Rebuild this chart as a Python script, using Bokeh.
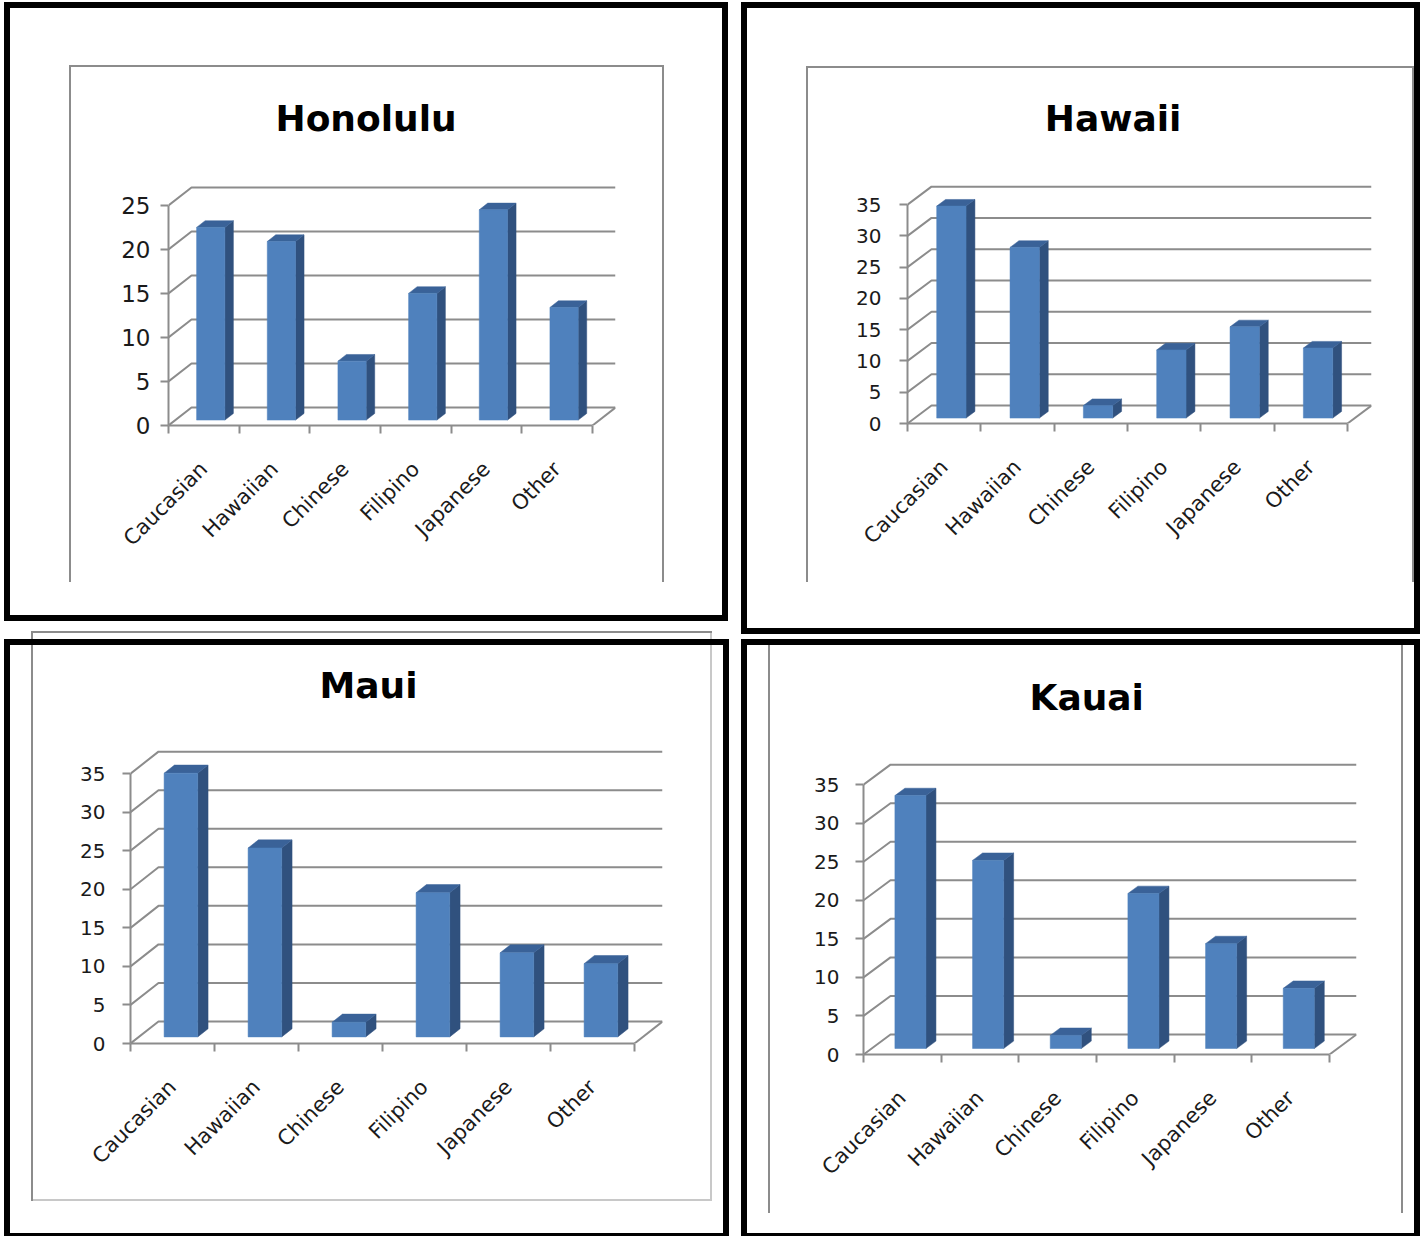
import math
from bokeh.plotting import figure
from bokeh.models import Range1d, LinearAxis, FixedTicker
from bokeh.layouts import row, column
from bokeh.embed import file_html
from bokeh.resources import INLINE

# ---- data -------------------------------------------------------------
categories = ["Caucasian", "Hawaiian", "Chinese", "Filipino", "Japanese", "Other"]
honolulu = [21.9, 20.3, 6.7, 14.4, 23.9, 12.8]
hawaii = [33.9, 27.3, 2.0, 10.9, 14.6, 11.2]
maui = [34.2, 24.5, 1.9, 18.7, 10.9, 9.5]
kauai = [32.8, 24.4, 1.7, 20.1, 13.6, 7.8]

# ---- styling ----------------------------------------------------------
FRONT = "#4F81BD"
TOP = "#3A6298"
SIDE = "#30517E"
GRID = "#8c8c8c"
LIGHT = "#c8c8c8"
TEXT = "#1a1a1a"
FONT = "DejaVu Sans"

# page layout, in page pixels: canvas (x, y, w, h), value-axis origin,
# category width, pixels per unit, axis max, depth offset of the walls,
# title position (left edge, baseline)
PANELS = [
    dict(title="Honolulu", values=honolulu, canvas=(0, 0, 735, 630),
         origin=(168, 425), cat_w=70.67, ppu=8.8, ymax=25, depth=(23, 18),
         title_left=275, title_base=134, tick_size="23px", tick_standoff=10),
    dict(title="Maui", values=maui, canvas=(0, 630, 735, 606),
         origin=(130, 1043), cat_w=84.0, ppu=7.71, ymax=35, depth=(28, 22),
         title_left=319, title_base=701, tick_size="20px", tick_standoff=17),
    dict(title="Hawaii", values=hawaii, canvas=(735, 0, 689, 636),
         origin=(906.7, 423.3), cat_w=73.33, ppu=6.26, ymax=35, depth=(24, 18),
         title_left=1044, title_base=134, tick_size="20px", tick_standoff=18),
    dict(title="Kauai", values=kauai, canvas=(735, 636, 689, 600),
         origin=(863, 1054), cat_w=77.67, ppu=7.71, ymax=35, depth=(27, 20),
         title_left=1029, title_base=713, tick_size="20px", tick_standoff=16),
]

# panel borders (black) and chart-area frames (grey), page pixels
BLACK_RECTS = [
    (4, 2, 728, 8), (4, 2, 10, 621), (722, 2, 728, 621), (4, 615, 728, 621),
    (741, 2, 1420, 8), (741, 2, 747, 634), (1414, 2, 1420, 634), (741, 628, 1420, 634),
    (4, 639, 729, 645), (4, 639, 10, 1236), (723, 639, 729, 1236), (4, 1233, 729, 1236),
    (741, 639, 1420, 645), (741, 639, 747, 1236), (1414, 639, 1420, 1236), (741, 1233, 1420, 1236),
]
GRAY_RECTS = [
    (69, 65, 71, 582), (69, 65, 664, 67), (662, 65, 664, 582),
    (806, 66, 808, 582), (806, 66, 1414, 68), (1412, 66, 1414, 582),
    (31, 631, 33, 1201), (31, 631, 712, 633),
    (768, 645, 770, 1213), (1401, 645, 1403, 1213),
]
LIGHT_RECTS = [(710, 631, 712, 1201), (31, 1199, 712, 1201)]

BAR_W = 0.4          # bar width, fraction of a category
F0, F1 = 0.30, 0.67  # bar front / back, fraction of the floor depth
TITLE_STANDOFF = 10


def panel(cfg):
    ox, oy, W, H = cfg["canvas"]
    ax, ay = cfg["origin"]
    cw, ppu, ymax = cfg["cat_w"], cfg["ppu"], cfg["ymax"]
    dxp, dyp = cfg["depth"]
    n = len(categories)
    ddx, ddy = dxp / cw, dyp / ppu

    # frame: left/bottom on the front axes, top just under the title
    top_page = cfg["title_base"] + 4 + TITLE_STANDOFF // 2
    fl = round(ax - ox)
    fb = round(ay - oy)
    fr = round(ax + n * cw + dxp - ox)
    ft = round(top_page - oy)
    y_end = (ay - top_page) / ppu

    p = figure(width=W, height=H, output_backend="svg", toolbar_location=None,
               x_range=Range1d(0, n + ddx), y_range=Range1d(0, y_end),
               x_axis_type=None, y_axis_type=None,
               min_border_left=fl, min_border_right=W - fr,
               min_border_top=ft, min_border_bottom=H - fb)
    if "frame_align" in p.properties():
        p.frame_align = False
    p.outline_line_color = None
    p.background_fill_color = None
    p.border_fill_color = None

    # title
    p.title.text = cfg["title"]
    p.title.align = "left"
    p.title.offset = cfg["title_left"] - ax
    p.title.text_font = FONT
    p.title.text_font_style = "bold"
    p.title.text_font_size = "36px"
    p.title.text_color = "black"
    p.title.vertical_align = "bottom"
    p.title.standoff = TITLE_STANDOFF

    # value axis on the front edge
    yax = LinearAxis(ticker=FixedTicker(ticks=list(range(0, ymax + 1, 5))), bounds=(0, ymax))
    yax.axis_line_color = GRID
    yax.axis_line_width = 2
    yax.major_tick_line_color = GRID
    yax.major_tick_line_width = 2
    yax.major_tick_out = 8
    yax.major_tick_in = 0
    yax.minor_tick_line_color = None
    yax.major_label_text_font = FONT
    yax.major_label_text_font_size = cfg["tick_size"]
    yax.major_label_text_color = TEXT
    yax.major_label_standoff = cfg["tick_standoff"]
    p.add_layout(yax, "left")

    # category axis: labels at centres, tick marks on the boundaries
    centers = [i + 0.5 for i in range(n)]
    xax = LinearAxis(ticker=FixedTicker(ticks=centers, minor_ticks=list(range(n + 1))),
                     bounds=(0, n))
    xax.major_label_overrides = {c: name for c, name in zip(centers, categories)}
    xax.axis_line_color = GRID
    xax.axis_line_width = 2
    xax.major_tick_line_color = None
    xax.major_tick_out = 0
    xax.major_tick_in = 0
    xax.minor_tick_line_color = GRID
    xax.minor_tick_line_width = 2
    xax.minor_tick_out = 8
    xax.minor_tick_in = 0
    xax.major_label_orientation = math.pi / 4
    xax.major_label_standoff = 32
    xax.major_label_text_font = FONT
    xax.major_label_text_font_size = "21px"
    xax.major_label_text_color = TEXT
    p.add_layout(xax, "below")

    # walls: side-wall diagonals and back-wall gridlines
    gx, gy = [], []
    for v in range(0, ymax + 1, 5):
        gx.append([0, ddx, n + ddx])
        gy.append([v, v + ddy, v + ddy])
    gx.append([n, n + ddx])
    gy.append([0, ddy])
    p.multi_line(gx, gy, line_color=GRID, line_width=2)

    # 3-D columns
    vals = cfg["values"]
    fx, fy, sx, sy, tx, ty = [], [], [], [], [], []
    bx0, by0 = F0 * ddx, F0 * ddy
    bdx, bdy = (F1 - F0) * ddx, (F1 - F0) * ddy
    for i, v in enumerate(vals):
        xl = i + 0.5 - BAR_W / 2 + bx0
        xr = xl + BAR_W
        yb, yt = by0, by0 + v
        fx.append([xl, xr, xr, xl]); fy.append([yb, yb, yt, yt])
        sx.append([xr, xr + bdx, xr + bdx, xr]); sy.append([yb, yb + bdy, yt + bdy, yt])
        tx.append([xl, xr, xr + bdx, xl + bdx]); ty.append([yt, yt, yt + bdy, yt + bdy])
    p.patches(sx, sy, fill_color=SIDE, line_color=SIDE, line_width=0.5)
    p.patches(tx, ty, fill_color=TOP, line_color=TOP, line_width=0.5)
    p.patches(fx, fy, fill_color=FRONT, line_color=FRONT, line_width=0.5)
    return p


def page_background():
    # borders and frames painted as CSS background strips behind the plots
    imgs, pos, size = [], [], []
    for rects, color in ((BLACK_RECTS, "#000000"), (GRAY_RECTS, GRID), (LIGHT_RECTS, LIGHT)):
        for x0, y0, x1, y1 in rects:
            imgs.append(f"linear-gradient({color}, {color})")
            pos.append(f"{x0}px {y0}px")
            size.append(f"{x1 - x0}px {y1 - y0}px")
    return {
        "background-color": "#ffffff",
        "background-image": ", ".join(imgs),
        "background-position": ", ".join(pos),
        "background-size": ", ".join(size),
        "background-repeat": "no-repeat",
    }


figs = [panel(c) for c in PANELS]
layout = row(column(figs[0], figs[1], spacing=0), column(figs[2], figs[3], spacing=0),
             spacing=0, styles=page_background())

with open("out.html", "w") as f:
    f.write(file_html(layout, INLINE, title="Ethnic composition by county"))
